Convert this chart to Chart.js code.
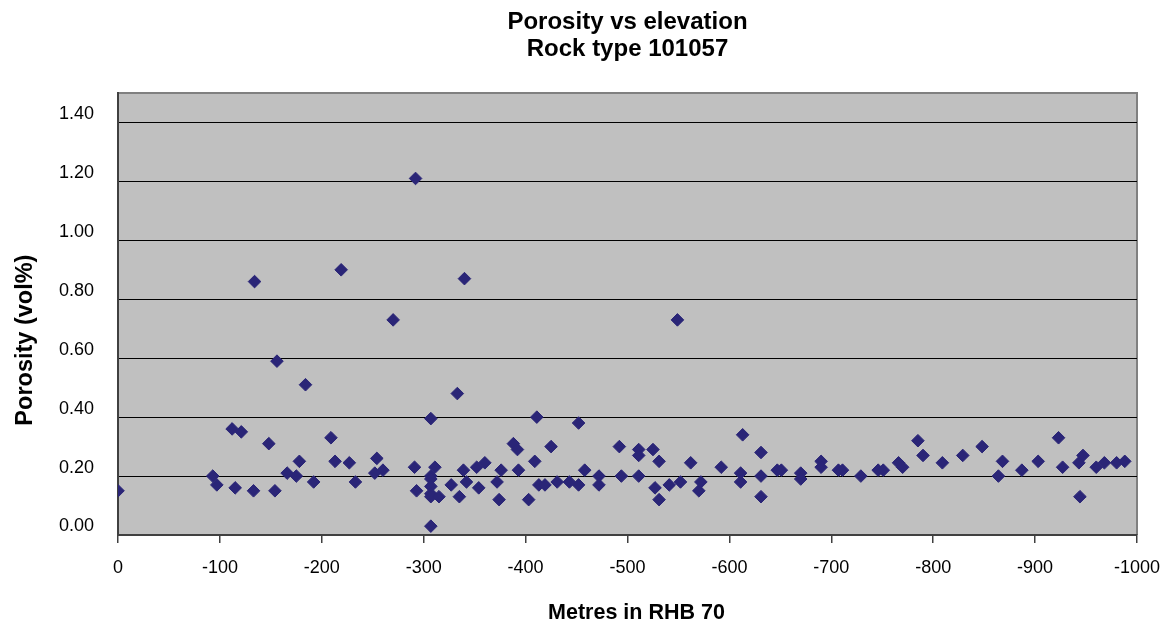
<!DOCTYPE html>
<html>
<head>
<meta charset="utf-8">
<script src="https://cdn.jsdelivr.net/npm/chart.js@4/dist/chart.umd.min.js"></script>
<style>
  html, body { margin: 0; padding: 0; background: #ffffff; }
  #wrap { width: 1161px; height: 626px; position: relative; }
</style>
</head>
<body>
<div id="wrap"><canvas id="c"></canvas></div>
<script>
const chartTitle = ['Porosity vs elevation', 'Rock type 101057'];
const xAxisTitle = 'Metres in RHB 70';
const yAxisTitle = 'Porosity (vol%)';

const elevation = [
  0, -93, -97, -112, -121, -115, -134, -133, -148, -154,
  -156, -166, -175, -178, -184, -192, -209, -213, -219, -227,
  -233, -252, -254, -260, -270, -291, -293, -292, -307, -307,
  -307, -307, -307, -307, -307, -311, -315, -327, -333, -335,
  -339, -340, -342, -352, -354, -360, -372, -374, -376, -388,
  -392, -393, -403, -409, -411, -413, -419, -425, -431, -443,
  -452, -452, -458, -472, -472, -492, -494, -511, -511, -511,
  -525, -527, -531, -531, -541, -549, -552, -562, -570, -572,
  -592, -611, -611, -613, -631, -631, -631, -647, -651, -670,
  -670, -690, -690, -707, -711, -729, -746, -751, -766, -770,
  -785, -790, -809, -829, -848, -864, -868, -887, -903, -923,
  -927, -943, -947, -944, -960, -968, -980, -988
];
const porosity = [
  0.15, 0.20, 0.17, 0.36, 0.35, 0.16, 0.86, 0.15, 0.31, 0.15,
  0.59, 0.21, 0.20, 0.25, 0.51, 0.18, 0.33, 0.25, 0.90, 0.245,
  0.18, 0.21, 0.26, 0.22, 0.73, 0.23, 0.15, 1.21, 0.395, 0.20,
  0.19, 0.165, 0.14, 0.13, 0.03, 0.23, 0.13, 0.17, 0.48, 0.13,
  0.22, 0.87, 0.18, 0.23, 0.16, 0.245, 0.18, 0.12, 0.22, 0.31,
  0.29, 0.22, 0.12, 0.25, 0.40, 0.17, 0.17, 0.30, 0.18, 0.18,
  0.38, 0.17, 0.22, 0.20, 0.17, 0.30, 0.20, 0.29, 0.27, 0.20,
  0.29, 0.16, 0.25, 0.12, 0.17, 0.73, 0.18, 0.245, 0.15, 0.18,
  0.23, 0.21, 0.18, 0.34, 0.28, 0.20, 0.13, 0.22, 0.22, 0.21,
  0.19, 0.25, 0.23, 0.22, 0.22, 0.20, 0.22, 0.22, 0.245, 0.23,
  0.32, 0.27, 0.245, 0.27, 0.30, 0.20, 0.25, 0.22, 0.25, 0.33,
  0.23, 0.245, 0.27, 0.13, 0.23, 0.245, 0.245, 0.25
];
const yTickMax = 1.4;

const points = elevation.map((x, i) => ({ x: x, y: porosity[i] }));

const plotBg = {
  id: 'plotBg',
  beforeDraw(chart) {
    const a = chart.chartArea, ctx = chart.ctx;
    ctx.save();
    ctx.fillStyle = '#c0c0c0';
    ctx.fillRect(a.left, a.top, a.right - a.left, a.bottom - a.top);
    ctx.strokeStyle = '#808080';
    ctx.lineWidth = 2;
    ctx.beginPath();
    ctx.moveTo(a.left, a.top);
    ctx.lineTo(a.right, a.top);
    ctx.lineTo(a.right, a.bottom);
    ctx.stroke();
    ctx.restore();
  }
};

const FONT = "'Liberation Sans', Arial, sans-serif";

new Chart(document.getElementById('c'), {
  type: 'scatter',
  data: {
    datasets: [{
      data: points,
      pointStyle: 'rectRot',
      pointRadius: 6.3,
      pointHoverRadius: 6.3,
      backgroundColor: '#2a2577',
      borderColor: '#2a2577',
      borderWidth: 1
    }]
  },
  plugins: [plotBg],
  options: {
    responsive: true,
    maintainAspectRatio: false,
    animation: false,
    events: [],
    layout: { padding: { left: 8, right: 24, top: 0, bottom: 0 } },
    plugins: {
      legend: { display: false },
      tooltip: { enabled: false },
      title: {
        display: true,
        text: chartTitle,
        fullSize: false,
        color: '#000',
        font: { family: FONT, size: 24, weight: 'bold', lineHeight: 27 / 24 },
        padding: { top: 8.5, bottom: 30.5 }
      }
    },
    scales: {
      x: {
        type: 'linear',
        reverse: true,
        min: -1000,
        max: 0,
        ticks: {
          stepSize: 100,
          color: '#000',
          font: { family: FONT, size: 18 },
          padding: 14,
          maxRotation: 0,
          autoSkip: false,
          callback: (v) => String(v)
        },
        grid: { drawOnChartArea: false, drawTicks: true, tickLength: 8, color: '#404040', lineWidth: 1.5 },
        border: { display: true, color: '#404040', width: 2 },
        title: {
          display: true,
          text: '   ' + xAxisTitle,
          color: '#000',
          font: { family: FONT, size: 21.5, weight: 'bold', lineHeight: 1 },
          padding: { top: 0, bottom: 2 }
        },
        afterFit(scale) { scale.height = 91; scale.paddingLeft = 0; scale.paddingRight = 0; }
      },
      y: {
        type: 'linear',
        min: 0,
        max: 1.5,
        ticks: {
          stepSize: 0.2,
          color: '#000',
          font: { family: FONT, size: 18 },
          padding: 24,
          labelOffset: -8.5,
          callback: (v) => v.toFixed(2)
        },
        afterBuildTicks(scale) {
          scale.ticks = scale.ticks.filter(t => t.value <= yTickMax + 1e-9);
        },
        grid: { color: '#000', lineWidth: 1, drawTicks: false },
        border: { display: true, color: '#404040', width: 2 },
        title: {
          display: true,
          text: yAxisTitle + '        ',
          color: '#000',
          font: { family: FONT, size: 23.5, weight: 'bold', lineHeight: 1.2 },
          padding: { top: 3, bottom: 0 }
        },
        afterFit(scale) { scale.width = 110; scale.paddingTop = 0; scale.paddingBottom = 0; }
      }
    }
  }
});
</script>
</body>
</html>
